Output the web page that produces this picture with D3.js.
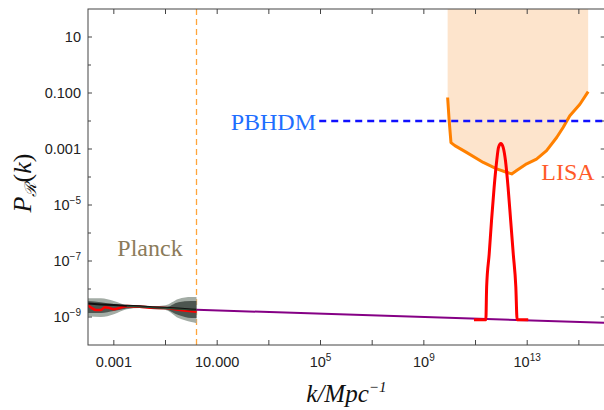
<!DOCTYPE html>
<html>
<head>
<meta charset="utf-8">
<script src="https://cdn.jsdelivr.net/npm/d3@7"></script>
<style>
  body { margin: 0; background: #fff; }
  svg { display: block; }
  .tick-label { font-family: "Liberation Sans", Arial, sans-serif; font-size: 14.5px; fill: #222; }
  .serif { font-family: "Liberation Serif", "Times New Roman", serif; }
</style>
</head>
<body>
<svg id="chart" width="604" height="410"></svg>
<script>
// all k and P values are log10 exponents
const xTickExp = [-3, -1, 1, 3, 5, 7, 9, 11, 13, 15];
const xLabelExp = [-3, 1, 5, 9, 13];
const xLabels = [['0.001', ''], ['10.000', ''], ['10', '5'], ['10', '9'], ['10', '13']];
const yTickExp = [1, 0, -1, -2, -3, -4, -5, -6, -7, -8, -9];
const yLabelExp = [1, -1, -3, -5, -7, -9];
const yLabels = [['10', ''], ['0.100', ''], ['0.001', ''], ['10', '−5'], ['10', '−7'], ['10', '−9']];

// Planck band
const planckK = [-4.0, -3.5, -3.0, -2.5, -2.0, -1.5, -1.0, -0.5, 0.0, 0.2];
const planckMid = [-8.52, -8.55, -8.57, -8.60, -8.62, -8.65, -8.67, -8.70, -8.73, -8.74];
const planckOuterHi = [-8.33, -8.33, -8.43, -8.58, -8.61, -8.61, -8.58, -8.36, -8.29, -8.29];
const planckOuterLo = [-8.97, -9.00, -8.90, -8.72, -8.68, -8.72, -8.75, -9.04, -9.18, -9.22];
const planckInnerHi = [-8.43, -8.47, -8.54, -8.61, -8.63, -8.65, -8.65, -8.47, -8.43, -8.43];
const planckInnerLo = [-8.86, -8.86, -8.79, -8.70, -8.67, -8.68, -8.72, -8.93, -9.04, -9.04];
const planckRedK = [-4.0, -3.85, -3.7, -3.5, -3.35, -3.2, -3.0, -2.8, -2.5, -2.0, -1.5, -1.0, -0.5, 0.0, 0.2];
const planckRed = [-8.58, -8.68, -8.75, -8.75, -8.65, -8.67, -8.72, -8.68, -8.61, -8.63, -8.67, -8.68, -8.74, -8.79, -8.81];

// extrapolated spectrum
const purpleK = [0.2, 16];
const purpleP = [-8.74, -9.21];

// peaked spectrum
const peakK = [10.94, 11.40, 11.43, 11.53, 11.62, 11.72, 11.82, 11.89, 11.98, 12.07, 12.16, 12.26, 12.36, 12.46, 12.56, 12.61, 13.04];
const peakP = [-9.10, -9.10, -7.93, -6.74, -5.55, -4.37, -3.42, -2.94, -2.80, -2.94, -3.42, -4.37, -5.55, -6.74, -7.93, -9.10, -9.10];

// LISA sensitivity
const lisaK = [9.92, 9.98, 10.05, 10.20, 10.65, 11.30, 11.82, 12.20, 12.40, 12.59, 12.98, 13.36, 13.75, 14.14, 14.39, 14.65, 15.04, 15.36];
const lisaP = [-1.16, -1.99, -2.77, -2.88, -3.12, -3.48, -3.71, -3.83, -3.89, -3.77, -3.53, -3.36, -3.06, -2.59, -2.23, -1.81, -1.40, -0.95];

const planckEdge = 0.2;
const pbhLevel = -2.0;
const pbhStart = 4.95;

const p10 = e => Math.pow(10, e);

const svg = d3.select('#chart');
const x = d3.scaleLog().domain([1e-4, 1e16]).range([88, 604.7]);
const y = d3.scaleLog().domain([1e-10, 1e2]).range([345, 9]);

svg.append('defs').append('clipPath').attr('id', 'clip')
  .append('rect')
  .attr('x', x.range()[0]).attr('y', y.range()[1])
  .attr('width', x.range()[1] - x.range()[0])
  .attr('height', y.range()[0] - y.range()[1]);

const g = svg.append('g').attr('clip-path', 'url(#clip)');

const line = d3.line().x(d => x(p10(d[0]))).y(d => y(p10(d[1])));
const zip = (a, b) => a.map((v, i) => [v, b[i]]);

// LISA shaded region
g.append('path')
  .attr('fill', '#fde4cc')
  .attr('d', d3.area()
    .x(d => x(p10(d[0])))
    .y0(y(1e2))
    .y1(d => y(p10(d[1])))(zip(lisaK, lisaP)));

// Planck edge
g.append('line')
  .attr('x1', x(p10(planckEdge))).attr('x2', x(p10(planckEdge)))
  .attr('y1', y(1e2)).attr('y2', y(1e-10))
  .attr('stroke', '#ffa53a').attr('stroke-width', 1.3)
  .attr('stroke-dasharray', '6,4');

// Planck bands
const band = (hi, lo, color) => {
  g.append('path')
    .attr('fill', color)
    .attr('d', d3.area()
      .curve(d3.curveMonotoneX)
      .x((d, i) => x(p10(planckK[i])))
      .y0((d, i) => y(p10(lo[i])))
      .y1((d, i) => y(p10(hi[i])))(planckK));
};
band(planckOuterHi, planckOuterLo, '#a3aca5');
band(planckInnerHi, planckInnerLo, '#4d5650');

g.append('path')
  .attr('fill', 'none').attr('stroke', '#ff0000').attr('stroke-width', 2.6)
  .attr('d', line.curve(d3.curveMonotoneX)(zip(planckRedK, planckRed)));

g.append('path')
  .attr('fill', 'none').attr('stroke', '#111').attr('stroke-width', 2)
  .attr('d', line.curve(d3.curveLinear)(zip(planckK, planckMid)));

g.append('path')
  .attr('fill', 'none').attr('stroke', '#2f5a40').attr('stroke-width', 1.2).attr('opacity', 0.8)
  .attr('d', line(zip(planckK.slice(3), planckMid.slice(3).map(v => v - 0.02))));

// purple extrapolation
g.append('path')
  .attr('fill', 'none').attr('stroke', '#850085').attr('stroke-width', 2)
  .attr('d', line(zip(purpleK, purpleP)));

// LISA curve
g.append('path')
  .attr('fill', 'none').attr('stroke', '#ff8000').attr('stroke-width', 3)
  .attr('stroke-linejoin', 'round')
  .attr('d', line(zip(lisaK, lisaP)));

// peak
g.append('path')
  .attr('fill', 'none').attr('stroke', '#ff0000').attr('stroke-width', 3)
  .attr('stroke-linejoin', 'round')
  .attr('d', line.curve(d3.curveMonotoneX)(zip(peakK, peakP)));

// PBHDM bound
g.append('line')
  .attr('x1', x(p10(pbhStart))).attr('x2', x(1e16))
  .attr('y1', y(p10(pbhLevel))).attr('y2', y(p10(pbhLevel)))
  .attr('stroke', '#1010ff').attr('stroke-width', 2.5)
  .attr('stroke-dasharray', '7,5');

// frame
const [x0, x1] = x.range();
const [y0, y1] = y.range();
svg.append('rect')
  .attr('x', x0).attr('y', y1).attr('width', x1 - x0).attr('height', y0 - y1)
  .attr('fill', 'none').attr('stroke', '#444').attr('stroke-width', 1);

// x ticks, bottom and top
xTickExp.forEach(e => {
  const px = x(p10(e));
  svg.append('line').attr('x1', px).attr('x2', px).attr('y1', y0).attr('y2', y0 - 5)
    .attr('stroke', '#444');
  svg.append('line').attr('x1', px).attr('x2', px).attr('y1', y1).attr('y2', y1 + 5)
    .attr('stroke', '#444');
});
// y ticks, left and right
yTickExp.forEach(e => {
  const py = y(p10(e));
  const len = yLabelExp.includes(e) ? 4 : 3;
  svg.append('line').attr('x1', x0).attr('x2', x0 + len).attr('y1', py).attr('y2', py)
    .attr('stroke', '#444');
  svg.append('line').attr('x1', x1).attr('x2', x1 - len).attr('y1', py).attr('y2', py)
    .attr('stroke', '#444');
});

xLabelExp.forEach((e, i) => {
  const t = svg.append('text').attr('class', 'tick-label')
    .attr('x', x(p10(e))).attr('y', 367).attr('text-anchor', 'middle');
  t.append('tspan').text(xLabels[i][0]);
  if (xLabels[i][1]) {
    t.append('tspan').attr('font-size', '10px').attr('dy', -6).text(xLabels[i][1]);
  }
});

yLabelExp.forEach((e, i) => {
  const t = svg.append('text').attr('class', 'tick-label')
    .attr('x', 81).attr('y', y(p10(e)) + 5).attr('text-anchor', 'end');
  t.append('tspan').text(yLabels[i][0]);
  if (yLabels[i][1]) {
    t.append('tspan').attr('font-size', '10px').attr('dy', -6).text(yLabels[i][1]);
  }
});

// axis titles
const xt = svg.append('text').attr('class', 'serif')
  .attr('x', (x0 + x1) / 2).attr('y', 402).attr('text-anchor', 'middle')
  .attr('font-size', '25px').attr('font-style', 'italic').attr('fill', '#111');
xt.append('tspan').text('k/Mpc');
xt.append('tspan').attr('font-size', '15px').attr('dy', -10).text('−1');

const yt = svg.append('text').attr('class', 'serif')
  .attr('transform', 'translate(31,183) rotate(-90)')
  .attr('text-anchor', 'middle').attr('font-size', '26px').attr('fill', '#111');
yt.append('tspan').attr('font-style', 'italic').text('P');
yt.append('tspan').attr('font-size', '16px').attr('dy', 5).attr('font-style', 'italic').text('ℛ');
yt.append('tspan').attr('dy', -5).text('(');
yt.append('tspan').attr('font-style', 'italic').text('k');
yt.append('tspan').text(')');

// annotations
svg.append('text').attr('class', 'serif')
  .attr('x', 150).attr('y', 256).attr('text-anchor', 'middle')
  .attr('font-size', '24px').attr('fill', '#8b7b5a').text('Planck');
svg.append('text').attr('class', 'serif')
  .attr('x', 316).attr('y', 130).attr('text-anchor', 'end')
  .attr('font-size', '24px').attr('fill', '#1e6eff').text('PBHDM');
svg.append('text').attr('class', 'serif')
  .attr('x', 568).attr('y', 180).attr('text-anchor', 'middle')
  .attr('font-size', '24px').attr('fill', '#ff5a28').text('LISA');
</script>
</body>
</html>
